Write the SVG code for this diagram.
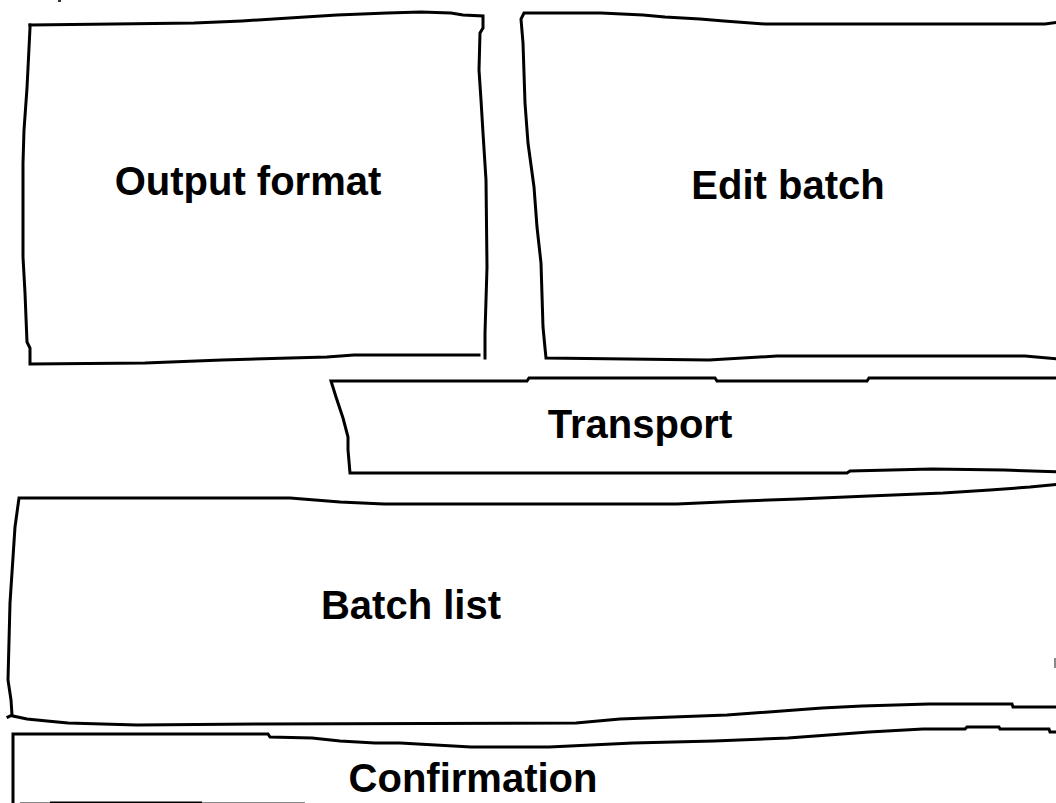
<svg xmlns="http://www.w3.org/2000/svg" width="1056" height="803" viewBox="0 0 1056 803">
  <style>
    .edge { fill: none; stroke: #000; stroke-width: 3; stroke-linejoin: miter; stroke-linecap: square; }
    .label { font-family: "Liberation Sans", Arial, sans-serif; font-weight: bold; font-size: 40px; fill: #000; text-anchor: middle; }
  </style>
  <rect x="0" y="0" width="1056" height="803" fill="#fff"/>
  <rect x="58" y="0" width="3" height="2" fill="#333"/>

  <g id="output-format">
    <path class="edge" d="M30,25 L114,24 L194,23 L242,21 L305,17 L337,15 L387,13 L421,12 L451,13 L463,15 L483,16 L483,28 L480,33 L479,70 L481,100 L483,133 L486,180 L487,267 L485,333 L485,358"/>
    <path class="edge" d="M479,355 L354,355 L327,357 L290,358 L222,360 L145,363 L30,364 L30,348 L27,342 L25,293 L23,257 L23,163 L24,130 L27,88 L30,28 L30,25"/>
    <text class="label" x="248" y="195">Output format</text>
  </g>

  <g id="edit-batch">
    <path class="edge" d="M1060,22 L1045,24 L765,24 L724,21 L700,19 L665,17 L643,15 L601,13 L524,13 L521,19 L523,43 L525,103 L528,143 L534,187 L537,227 L541,263 L543,327 L545,348 L546,358 L709,360 L777,356 L1025,356 L1060,359"/>
    <text class="label" x="788" y="199">Edit batch</text>
  </g>

  <g id="transport">
    <path class="edge" d="M1060,378 L869,378 L867,381 L717,381 L715,378 L529,378 L527,381 L331,381 L336,397 L343,418 L348,437 L348,450 L350,473 L847,473 L850,471 L932,469 L1004,470 L1060,472"/>
    <text class="label" x="640" y="438">Transport</text>
  </g>

  <g id="batch-list">
    <path class="edge" d="M1060,484 L1030,487 L990,490 L943,493 L869,496 L798,499 L744,501 L677,504 L384,504 L340,502 L290,498 L19,498 L15,527 L10,603 L8,680 L11,700 L12,715 L8,717"/>
    <path class="edge" d="M13,716 L27,719 L47,721 L68,723 L137,725 L262,724 L576,723 L620,719 L673,717 L727,715 L822,708 L862,706 L929,704 L1012,704 L1013,707 L1060,707"/>
    <line x1="1055" y1="658" x2="1055" y2="668" stroke="#888" stroke-width="2"/>
    <text class="label" x="411" y="619">Batch list</text>
  </g>

  <g id="confirmation">
    <path class="edge" d="M1060,732 L1050,732 L1049,729 L1000,729 L999,727 L967,727 L965,729 L950,729 L923,729 L869,732 L788,738 L714,741 L633,743 L549,747 L471,747 L400,743 L375,743 L340,741 L312,738 L270,737 L268,734 L13,734 L13,810"/>
    <text class="label" x="473" y="792">Confirmation</text>
    <line x1="20" y1="802.5" x2="305" y2="802.5" stroke="#888" stroke-width="1"/>
    <line x1="50" y1="802.5" x2="202" y2="802.5" stroke="#000" stroke-width="2"/>
  </g>

  <g id="connectors"/>
</svg>
